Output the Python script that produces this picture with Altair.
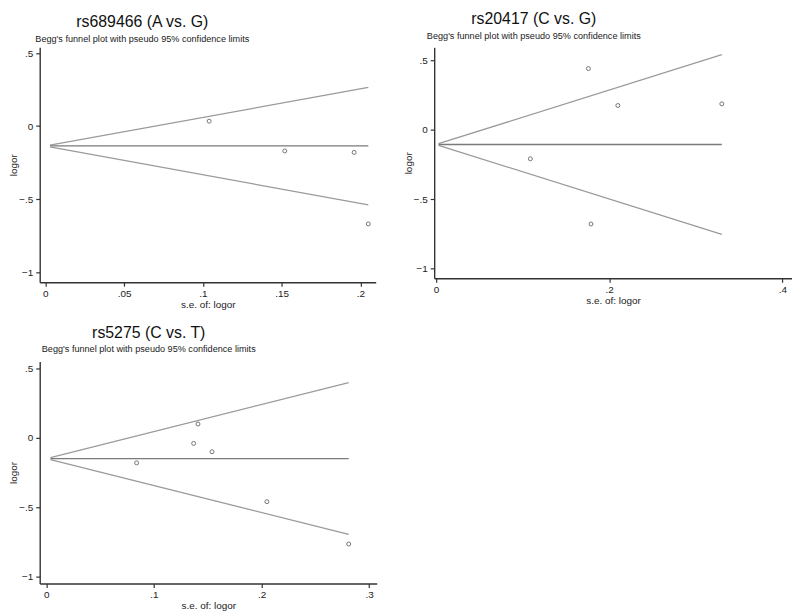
import altair as alt
import pandas as pd

# ---------------- data ----------------
titles = ["rs689466 (A vs. G)", "rs20417 (C vs. G)", "rs5275 (C vs. T)"]
subtitle = "Begg's funnel plot with pseudo 95% confidence limits"

# panel 1 : rs689466
se_1 = [0.104, 0.152, 0.196, 0.205]
lor_1 = [0.034, -0.17, -0.18, -0.67]
funnel_se_1 = [0.003, 0.205]
funnel_mid_1 = [-0.136, -0.136]
funnel_up_1 = [-0.130, 0.265]
funnel_lo_1 = [-0.142, -0.540]

# panel 2 : rs20417
se_2 = [0.109, 0.176, 0.179, 0.210, 0.330]
lor_2 = [-0.21, 0.44, -0.68, 0.174, 0.186]
funnel_se_2 = [0.003, 0.330]
funnel_mid_2 = [-0.107, -0.107]
funnel_up_2 = [-0.101, 0.540]
funnel_lo_2 = [-0.113, -0.755]

# panel 3 : rs5275
se_3 = [0.084, 0.137, 0.141, 0.154, 0.205, 0.281]
lor_3 = [-0.18, -0.04, 0.10, -0.10, -0.46, -0.765]
funnel_se_3 = [0.004, 0.281]
funnel_mid_3 = [-0.149, -0.149]
funnel_up_3 = [-0.142, 0.398]
funnel_lo_3 = [-0.156, -0.696]

x_ticks = [[0, 0.05, 0.1, 0.15, 0.2], [0, 0.2, 0.4], [0, 0.1, 0.2, 0.3]]
y_ticks = [-1, -0.5, 0, 0.5]
x_domains = [[-0.0035, 0.2097], [-0.002, 0.411], [-0.006, 0.307]]
y_domains = [[-1.07, 0.54], [-1.071, 0.593], [-1.05, 0.55]]
sizes = [(339, 237), (361, 233), (340, 224)]
title_dx = [-66, -80, -60]
title_offset = [3, 6, 7]

panels = [
    (se_1, lor_1, funnel_se_1, funnel_mid_1, funnel_up_1, funnel_lo_1),
    (se_2, lor_2, funnel_se_2, funnel_mid_2, funnel_up_2, funnel_lo_2),
    (se_3, lor_3, funnel_se_3, funnel_mid_3, funnel_up_3, funnel_lo_3),
]

LABEL_EXPR = "replace(datum.label, '0.', '.')"


def make_panel(i):
    se, lor, fse, fmid, fup, flo = panels[i]
    pts = pd.DataFrame({"se": se, "logor": lor})
    lines = pd.DataFrame({
        "line": ["upper", "centre", "lower"],
        "se0": [fse[0]] * 3,
        "se1": [fse[1]] * 3,
        "y0": [fup[0], fmid[0], flo[0]],
        "y1": [fup[1], fmid[1], flo[1]],
    })
    xs = alt.Scale(domain=x_domains[i], nice=False, zero=False)
    ys = alt.Scale(domain=y_domains[i], nice=False, zero=False)
    xaxis = alt.Axis(values=x_ticks[i], format="~g", labelExpr=LABEL_EXPR,
                     title="s.e. of: logor")
    yaxis = alt.Axis(values=y_ticks, format="~g", labelExpr=LABEL_EXPR,
                     title="logor")
    rules = alt.Chart(lines).mark_rule(strokeWidth=1.3).encode(
        x=alt.X("se0:Q", scale=xs, axis=xaxis),
        x2="se1:Q",
        y=alt.Y("y0:Q", scale=ys, axis=yaxis),
        y2="y1:Q",
        color=alt.Color("line:N", legend=None,
                        scale=alt.Scale(domain=["upper", "centre", "lower"],
                                        range=["#9a9a9a", "#7a7a7a", "#9a9a9a"])),
    )
    dots = alt.Chart(pts).mark_point(shape="circle", filled=False, size=16,
                                     strokeWidth=1, color="#3a3a3a").encode(
        x=alt.X("se:Q", scale=xs),
        y=alt.Y("logor:Q", scale=ys),
    )
    w, h = sizes[i]
    return alt.layer(rules, dots).properties(
        width=w, height=h,
        title=alt.TitleParams(
            text=titles[i], subtitle=subtitle, anchor="middle", dx=title_dx[i],
            fontSize=16, font="Liberation Sans", fontWeight="normal", color="#111",
            subtitleFont="Liberation Sans", subtitleFontSize=9.2,
            subtitleColor="#222", subtitlePadding=5, offset=title_offset[i],
        ),
    )


p1, p2, p3 = make_panel(0), make_panel(1), make_panel(2)

chart = alt.vconcat(
    alt.hconcat(p1, p2, spacing=27),
    p3,
    spacing=15,
).properties(padding=0).configure_view(stroke=None).configure_axis(
    grid=False,
    domainColor="#333",
    domainWidth=1.4,
    tickColor="#333",
    tickWidth=1.2,
    tickSize=4,
    labelFont="Liberation Sans",
    labelFontSize=10,
    labelColor="#222",
    labelPadding=2,
    titleFont="Liberation Sans",
    titleFontSize=10,
    titleFontWeight="normal",
    titleColor="#222",
).configure_axisY(
    labelAngle=0,
    labelPadding=3,
    titlePadding=0,
).configure_axisX(
    titlePadding=1,
)

chart.save("out.html", embed_options={"renderer": "svg", "actions": False})
